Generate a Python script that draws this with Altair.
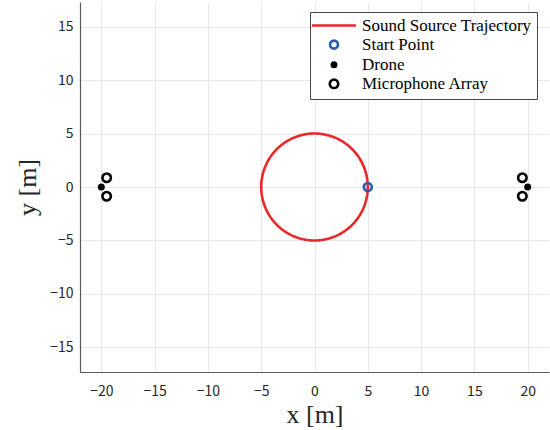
import altair as alt
import numpy as np
import pandas as pd

# ---- data ----
series_names = ["Sound Source Trajectory", "Start Point", "Drone", "Microphone Array"]
traj_center = (0.0, 0.0)
traj_radius = 5.0
traj_steps = 181

start_x = [5.0]
start_y = [0.0]
drone_x = [-20.0, 20.0]
drone_y = [0.0, 0.0]
mic_x = [-19.5, -19.5, 19.5, 19.5]
mic_y = [0.866, -0.866, 0.866, -0.866]

x_ticks = [-20, -15, -10, -5, 0, 5, 10, 15, 20]
y_ticks = [-15, -10, -5, 0, 5, 10, 15]
x_domain = [-22, 22]
y_domain = [-17.3, 17.3]

# ---- tables ----
t = np.linspace(0, 2 * np.pi, traj_steps)
traj = pd.DataFrame({
    "x": traj_center[0] + traj_radius * np.cos(t),
    "y": traj_center[1] + traj_radius * np.sin(t),
    "i": np.arange(traj_steps),
    "series": series_names[0],
})
pts = pd.concat([
    pd.DataFrame({"x": drone_x, "y": drone_y, "series": series_names[2]}),
    pd.DataFrame({"x": mic_x, "y": mic_y, "series": series_names[3]}),
    pd.DataFrame({"x": start_x, "y": start_y, "series": series_names[1]}),
], ignore_index=True)

red = "#e8282b"
blue = "#2b5cae"

stroke_scale = alt.Scale(domain=series_names, range=[red, blue, "black", "black"])
fill_scale = alt.Scale(domain=series_names, range=["transparent", "transparent", "black", "transparent"])
shape_scale = alt.Scale(domain=series_names, range=["M-4,0H4", "circle", "circle", "circle"])
size_scale = alt.Scale(type="ordinal", domain=series_names, range=[121, 64, 49, 72])
sw_scale = alt.Scale(type="ordinal", domain=series_names, range=[2.6, 2.6, 0, 2.6])

legend = alt.Legend(
    title=None, orient="none", legendX=230, legendY=10,
    fillColor="white", padding=5, labelFont="Liberation Serif", labelFontSize=17,
    labelColor="black", symbolOffset=10.5, labelOffset=19.5, rowPadding=1.1,
    symbolOpacity=1, labelLimit=400,
)

xenc = alt.X("x:Q", scale=alt.Scale(domain=x_domain, nice=False, zero=False),
             axis=alt.Axis(values=x_ticks, title="x [m]", titleY=50, titleBaseline="alphabetic"))
yenc = alt.Y("y:Q", scale=alt.Scale(domain=y_domain, nice=False, zero=False),
             axis=alt.Axis(values=y_ticks, title="y [m]", titleX=-45, titleBaseline="alphabetic"))

line = alt.Chart(traj).mark_line(strokeWidth=2.6, clip=True).encode(
    x=xenc, y=yenc, order="i:Q",
    stroke=alt.Stroke("series:N", scale=stroke_scale, legend=legend),
)

points = alt.Chart(pts).mark_point(opacity=1, clip=True).encode(
    x=xenc, y=yenc,
    stroke=alt.Stroke("series:N", scale=stroke_scale, legend=legend),
    fill=alt.Fill("series:N", scale=fill_scale, legend=legend),
    shape=alt.Shape("series:N", scale=shape_scale, legend=legend),
    size=alt.Size("series:N", scale=size_scale, legend=legend),
    strokeWidth=alt.StrokeWidth("series:N", scale=sw_scale, legend=legend),
)

chart = alt.layer(line, points).properties(
    width=469, height=370,
    autosize=alt.AutoSizeParams(type="none"),
    padding={"left": 80, "top": 2, "right": 1, "bottom": 58},
).configure_view(stroke=None).configure_axis(
    grid=True, gridColor="#e6e6e6", gridWidth=1,
    domainColor="#5a5a5a", domainWidth=1.2,
    ticks=False,
    labelFont="Noto Sans CJK JP", labelFontSize=14, labelColor="#262626",
    titleFont="Liberation Serif", titleFontSize=26, titleFontWeight="normal",
    titleColor="#262626",
).configure_axisX(labelPadding=12).configure_axisY(labelPadding=7).configure_legend(
    strokeColor="#444444", strokeWidth=1,
)

chart.save("out.html", embed_options={"renderer": "svg", "actions": False})
